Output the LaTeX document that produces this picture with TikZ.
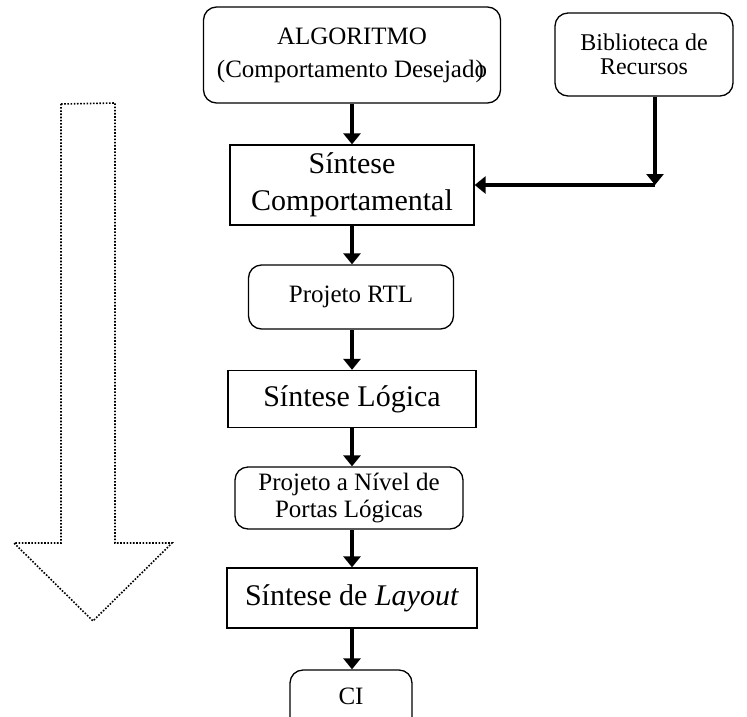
\documentclass[tikz,border=0pt]{standalone}
\usepackage{fontspec}
\setmainfont{Liberation Serif}
\usetikzlibrary{arrows.meta}
\begin{document}
\begin{tikzpicture}[x=1pt,y=-1pt,
  box/.style={draw,line width=1.3pt,align=center,inner sep=0pt,font=\fontsize{25}{28}\selectfont},
  roundbox/.style={box,rounded corners=13pt},
  squarebox/.style={box,font=\fontsize{30}{37}\selectfont},
  flow/.style={line width=4.5pt,-{Triangle[length=11pt,width=17pt]}},
  hollowarrow/.style={line width=1.6pt,dash pattern=on 1.6pt off 1.6pt}]
\useasboundingbox (0,0) rectangle (747,716);

% design flow boxes
\node[roundbox,minimum width=297pt,minimum height=96pt,font=\fontsize{25}{33}\selectfont] (algo) at (352,55)
  {ALGORITMO\\(Comportamento Desejad\rlap{\kern1pt)}o};
\node[roundbox,minimum width=178pt,minimum height=83pt,font=\fontsize{24}{24}\selectfont] (bib) at (644,54.5)
  {Biblioteca de\\Recursos};
\node[squarebox,minimum width=244pt,minimum height=80pt] (sc) at (352,185)
  {Síntese\\Comportamental};
\node[roundbox,minimum width=205pt,minimum height=64pt] (rtl) at (351,297)
  {Projeto RTL};
\node[squarebox,minimum width=248pt,minimum height=57pt] (sl) at (352,399)
  {Síntese Lógica};
\node[roundbox,minimum width=228pt,minimum height=62pt,font=\fontsize{25}{27}\selectfont] (pn) at (349,498)
  {Projeto a Nível de\\Portas Lógicas};
\node[squarebox,minimum width=250pt,minimum height=60pt] (lay) at (352,598)
  {Síntese de \textit{Layout}};
\node[roundbox,minimum width=122pt,minimum height=60pt] (ci) at (351,700)
  {\raisebox{8pt}{CI}};

% connectors
\coordinate (corner) at (655,185);
\draw[flow] (algo.south -| sc.north) -- (sc.north);
\draw[flow] (sc.south) -- (rtl.north -| sc.south);
\draw[flow] (rtl.south -| sc.south) -- (sl.north);
\draw[flow] (sl.south) -- (pn.north -| sl.south);
\draw[flow] (pn.south -| sl.south) -- (lay.north);
\draw[flow] (lay.south) -- (ci.north -| lay.south);
\draw[flow] (corner |- bib.south) -- (corner);
\draw[flow] (corner) -- (sc.east);

% dotted downward arrow
\draw[hollowarrow] (61,104) -- (115,103) -- (115,543) -- (172,543) -- (93,621)
  -- (14,543) -- (61,543) -- cycle;
\end{tikzpicture}
\end{document}
